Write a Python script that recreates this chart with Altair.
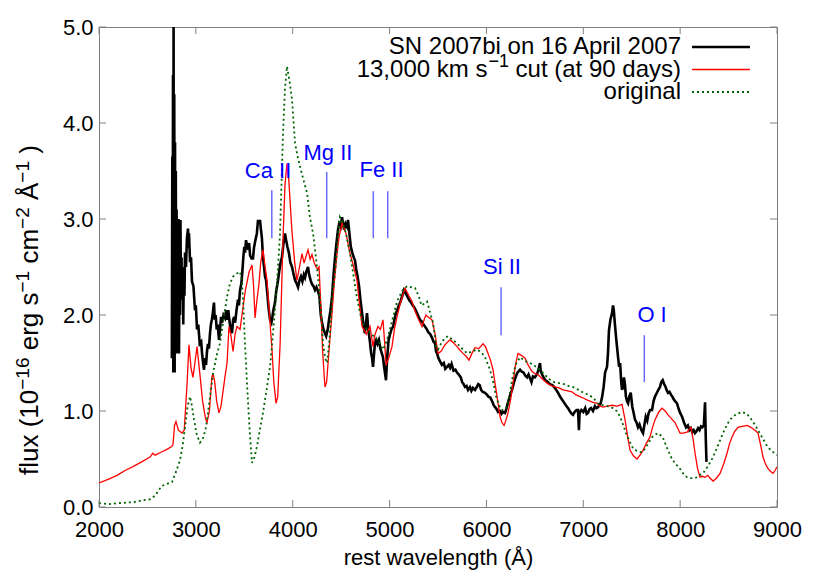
import altair as alt
import pandas as pd

# ---------------- data ----------------
obs_wl = [2752, 2757, 2761, 2764, 2767, 2770, 2773, 2777, 2781, 2785, 2789, 2793, 2797, 2801, 2806, 2811, 2816, 2821, 2826, 2831,
          2836, 2841, 2846, 2852, 2858, 2864, 2870, 2876, 2882, 2888, 2898, 2908, 2919, 2924, 2929, 2940, 2950, 2960, 2975, 2991,
          3000, 3012, 3025, 3040, 3055, 3064, 3075, 3084, 3095, 3105, 3115, 3125, 3135, 3146, 3155, 3165, 3175, 3187, 3195, 3205,
          3215, 3225, 3239, 3250, 3260, 3270, 3285, 3301, 3312, 3322, 3335, 3345, 3355, 3365, 3373, 3385, 3395, 3405, 3420, 3435,
          3445, 3455, 3470, 3480, 3490, 3500, 3508, 3518, 3528, 3540, 3550, 3560, 3575, 3590, 3600, 3615, 3630, 3642, 3652, 3662,
          3672, 3682, 3693, 3704, 3714, 3725, 3740, 3750, 3766, 3780, 3790, 3800, 3817, 3830, 3848, 3860, 3875, 3889, 3905, 3920,
          3932, 3945, 3960, 3975, 3993, 4010, 4025, 4040, 4055, 4070, 4085, 4100, 4115, 4127, 4140, 4158, 4170, 4185, 4200, 4215,
          4230, 4245, 4260, 4275, 4290, 4303, 4318, 4333, 4345, 4360, 4375, 4390, 4406, 4420, 4437, 4452, 4468, 4480, 4495, 4509,
          4520, 4530, 4545, 4560, 4571, 4585, 4600, 4615, 4630, 4643, 4655, 4670, 4685, 4700, 4716, 4730, 4745, 4755, 4767, 4780,
          4795, 4810, 4820, 4829, 4840, 4850, 4862, 4875, 4890, 4905, 4920, 4932, 4945, 4955, 4963, 4975, 4990, 5005, 5020, 5036,
          5050, 5065, 5080, 5095, 5110, 5125, 5138, 5149, 5160, 5175, 5190, 5205, 5222, 5240, 5255, 5270, 5283, 5300, 5315, 5335,
          5350, 5366, 5385, 5400, 5420, 5440, 5455, 5469, 5480, 5490, 5505, 5520, 5540, 5560, 5575, 5593, 5610, 5625, 5640, 5660,
          5680, 5696, 5715, 5735, 5750, 5765, 5779, 5795, 5810, 5830, 5845, 5860, 5882, 5900, 5915, 5930, 5945, 5960, 5985, 6005,
          6020, 6040, 6060, 6075, 6089, 6105, 6120, 6140, 6155, 6170, 6192, 6205, 6220, 6240, 6264, 6285, 6300, 6320, 6347, 6365,
          6385, 6400, 6420, 6435, 6450, 6465, 6480, 6500, 6520, 6535, 6553, 6560, 6575, 6590, 6610, 6636, 6655, 6680, 6700, 6720,
          6739, 6760, 6780, 6800, 6820, 6843, 6860, 6880, 6894, 6910, 6930, 6946, 6955, 6962, 6980, 7000, 7020, 7035, 7049, 7065,
          7080, 7100, 7120, 7135, 7152, 7165, 7180, 7195, 7210, 7225, 7245, 7255, 7265, 7280, 7297, 7307, 7315, 7325, 7340, 7348,
          7360, 7370, 7380, 7392, 7400, 7410, 7420, 7430, 7440, 7452, 7462, 7475, 7490, 7505, 7520, 7534, 7550, 7565, 7580, 7600,
          7617, 7630, 7645, 7660, 7675, 7690, 7710, 7725, 7740, 7760, 7775, 7792, 7805, 7820, 7835, 7850, 7860, 7875, 7890, 7905,
          7920, 7935, 7950, 7968, 7985, 8000, 8020, 8040, 8061, 8080, 8095, 8110, 8125, 8140, 8154, 8170, 8185, 8200, 8215, 8230,
          8245, 8257, 8265, 8272]
obs_flux = [1.55, 3.65, 1.95, 4.50, 1.40, 5.05, 1.55, 4.30, 1.40, 3.80, 1.65, 3.50, 1.75, 3.10, 1.60, 2.60, 1.85, 3.00, 1.60, 2.70,
            2.00, 2.99, 2.20, 2.60, 2.16, 2.40, 1.90, 2.50, 2.20, 2.65, 2.50, 2.80, 2.90, 2.70, 2.85, 2.55, 2.60, 2.35, 2.30, 2.05,
            2.10, 1.85, 1.90, 1.70, 1.72, 1.60, 1.50, 1.43, 1.55, 1.48, 1.62, 1.70, 1.65, 1.81, 1.90, 1.95, 2.02, 2.13, 1.95, 2.00,
            1.85, 1.90, 1.74, 1.85, 1.98, 1.92, 2.00, 1.97, 2.05, 1.95, 2.05, 1.95, 1.88, 1.85, 1.81, 1.95, 1.98, 1.92, 2.05, 2.16,
            2.10, 2.25, 2.33, 2.45, 2.60, 2.71, 2.65, 2.78, 2.72, 2.68, 2.75, 2.62, 2.59, 2.59, 2.70, 2.78, 2.85, 2.99, 2.95, 2.99,
            2.89, 2.80, 2.60, 2.50, 2.40, 2.36, 2.20, 2.08, 1.95, 1.92, 1.98, 2.05, 2.13, 2.25, 2.36, 2.45, 2.55, 2.60, 2.75, 2.85,
            2.78, 2.71, 2.65, 2.55, 2.50, 2.42, 2.36, 2.33, 2.29, 2.36, 2.40, 2.35, 2.42, 2.39, 2.45, 2.50, 2.42, 2.36, 2.32, 2.30,
            2.26, 2.29, 2.25, 2.20, 2.00, 1.92, 1.85, 1.81, 1.78, 1.84, 1.95, 2.05, 2.19, 2.40, 2.60, 2.75, 2.89, 2.95, 2.92, 3.02,
            2.95, 2.89, 2.95, 2.92, 2.99, 2.85, 2.71, 2.65, 2.60, 2.57, 2.48, 2.40, 2.30, 2.15, 2.02, 1.90, 1.81, 1.90, 2.02, 1.85,
            1.74, 1.60, 1.55, 1.46, 1.60, 1.71, 1.74, 1.70, 1.74, 1.65, 1.60, 1.56, 1.45, 1.38, 1.32, 1.55, 1.74, 1.80, 1.85, 1.88,
            1.95, 2.02, 2.05, 2.10, 2.13, 2.18, 2.22, 2.26, 2.24, 2.21, 2.18, 2.15, 2.13, 2.10, 2.08, 2.05, 2.02, 1.98, 1.95, 1.93,
            1.90, 1.88, 1.85, 1.82, 1.80, 1.76, 1.72, 1.71, 1.62, 1.60, 1.55, 1.52, 1.48, 1.50, 1.44, 1.46, 1.48, 1.45, 1.49, 1.42,
            1.43, 1.40, 1.38, 1.35, 1.30, 1.28, 1.25, 1.26, 1.22, 1.25, 1.21, 1.24, 1.22, 1.25, 1.28, 1.27, 1.22, 1.20, 1.19, 1.17,
            1.15, 1.14, 1.10, 1.06, 1.04, 1.02, 0.99, 1.00, 0.97, 0.99, 0.98, 1.02, 1.08, 1.15, 1.22, 1.30, 1.35, 1.40, 1.43, 1.41,
            1.40, 1.37, 1.35, 1.38, 1.34, 1.30, 1.36, 1.35, 1.38, 1.42, 1.50, 1.42, 1.38, 1.35, 1.32, 1.30, 1.28, 1.27, 1.25, 1.22,
            1.19, 1.15, 1.12, 1.09, 1.06, 1.03, 1.00, 0.97, 0.96, 0.99, 1.01, 1.01, 0.80, 0.98, 1.01, 0.99, 1.03, 0.97, 0.98, 1.02,
            1.03, 1.00, 1.05, 1.03, 1.04, 1.06, 1.08, 1.15, 1.25, 1.40, 1.46, 1.60, 1.84, 1.95, 2.02, 2.10, 2.05, 1.92, 1.75, 1.67,
            1.55, 1.46, 1.50, 1.30, 1.22, 1.25, 1.35, 1.28, 1.15, 1.10, 1.08, 1.15, 1.19, 1.05, 0.98, 0.91, 0.88, 0.83, 0.86, 0.80,
            0.77, 0.85, 0.94, 0.90, 0.98, 1.01, 1.01, 1.10, 1.15, 1.19, 1.22, 1.25, 1.30, 1.32, 1.28, 1.25, 1.22, 1.19, 1.20, 1.17,
            1.15, 1.12, 1.10, 1.08, 1.02, 0.98, 0.94, 0.88, 0.83, 0.85, 0.80, 0.82, 0.78, 0.80, 0.77, 0.79, 0.82, 0.80, 0.84, 0.83,
            0.85, 1.09, 0.70, 0.47]

cut_wl = [2000, 2100, 2186, 2270, 2351, 2440, 2527, 2555, 2580, 2640, 2702, 2750, 2764, 2780, 2795, 2820, 2857, 2880, 2910, 2929,
          2950, 2970, 2990, 3012, 3040, 3070, 3100, 3115, 3140, 3165, 3177, 3195, 3215, 3239, 3260, 3300, 3322, 3342, 3360, 3384,
          3405, 3425, 3456, 3487, 3510, 3528, 3550, 3580, 3596, 3611, 3630, 3652, 3670, 3693, 3715, 3735, 3760, 3786, 3805, 3828,
          3845, 3870, 3900, 3920, 3941, 3960, 3990, 4020, 4044, 4070, 4096, 4117, 4140, 4158, 4180, 4199, 4220, 4240, 4260, 4272,
          4290, 4310, 4333, 4350, 4380, 4406, 4430, 4457, 4480, 4509, 4530, 4550, 4570, 4592, 4630, 4664, 4690, 4716, 4740, 4760,
          4798, 4829, 4850, 4880, 4905, 4932, 4950, 4963, 4990, 5025, 5050, 5077, 5110, 5140, 5160, 5200, 5232, 5260, 5300, 5335,
          5360, 5376, 5410, 5438, 5470, 5500, 5530, 5573, 5600, 5624, 5660, 5696, 5730, 5758, 5790, 5820, 5850, 5882, 5920, 5965,
          5990, 6017, 6045, 6068, 6090, 6110, 6141, 6160, 6182, 6200, 6223, 6250, 6275, 6300, 6326, 6360, 6399, 6430, 6471, 6500,
          6533, 6580, 6626, 6660, 6708, 6750, 6791, 6840, 6884, 6920, 6966, 7010, 7049, 7100, 7142, 7173, 7204, 7250, 7300, 7350,
          7400, 7431, 7460, 7483, 7520, 7555, 7585, 7617, 7650, 7689, 7715, 7741, 7780, 7813, 7845, 7875, 7910, 7947, 7975, 7999,
          8035, 8071, 8112, 8135, 8154, 8180, 8205, 8230, 8257, 8285, 8310, 8340, 8375, 8412, 8450, 8484, 8510, 8536, 8565, 8598,
          8640, 8691, 8730, 8773, 8804, 8830, 8856, 8880, 8908, 8935, 8959, 8980, 9000]
cut_flux = [0.25, 0.29, 0.33, 0.38, 0.42, 0.47, 0.52, 0.56, 0.54, 0.57, 0.60, 0.63, 0.65, 0.85, 0.89, 0.80, 0.77, 0.80, 1.30, 1.69,
            1.45, 1.35, 1.50, 1.67, 1.40, 1.10, 0.92, 0.88, 1.00, 1.35, 1.39, 1.30, 1.10, 0.98, 1.05, 1.35, 1.50, 1.88, 1.80, 1.62,
            1.80, 1.88, 1.85, 2.08, 2.25, 2.34, 2.45, 2.52, 2.30, 1.97, 2.15, 2.33, 2.55, 2.68, 2.50, 2.36, 2.00, 1.64, 1.30, 1.08,
            1.15, 1.70, 2.80, 3.35, 3.58, 3.40, 2.90, 2.55, 2.36, 2.50, 2.64, 2.54, 2.62, 2.68, 2.58, 2.63, 2.55, 2.50, 2.48, 2.50,
            2.10, 1.60, 1.25, 1.30, 1.70, 2.02, 2.35, 2.63, 2.82, 2.96, 2.90, 2.85, 2.75, 2.64, 2.50, 2.36, 2.10, 1.88, 1.84, 1.80,
            1.88, 1.67, 1.80, 1.88, 1.85, 1.95, 1.70, 1.48, 1.55, 1.67, 1.85, 1.98, 2.12, 2.22, 2.28, 2.20, 2.14, 2.05, 1.95, 1.88,
            1.96, 2.00, 1.97, 1.95, 1.80, 1.60, 1.62, 1.69, 1.72, 1.74, 1.71, 1.67, 1.63, 1.60, 1.57, 1.53, 1.60, 1.66, 1.65, 1.70,
            1.67, 1.60, 1.52, 1.43, 1.28, 1.15, 0.94, 0.88, 0.85, 0.90, 0.98, 1.12, 1.29, 1.48, 1.60, 1.58, 1.55, 1.48, 1.41, 1.39,
            1.38, 1.33, 1.29, 1.27, 1.25, 1.24, 1.22, 1.21, 1.20, 1.17, 1.15, 1.13, 1.11, 1.09, 1.08, 1.05, 1.04, 1.05, 1.06, 1.05,
            1.07, 0.91, 0.72, 0.59, 0.53, 0.50, 0.54, 0.59, 0.66, 0.73, 0.83, 0.91, 0.99, 1.03, 1.00, 0.96, 0.92, 0.88, 0.82, 0.77,
            0.77, 0.78, 0.83, 0.70, 0.56, 0.40, 0.31, 0.32, 0.31, 0.33, 0.30, 0.27, 0.30, 0.35, 0.45, 0.56, 0.66, 0.73, 0.79, 0.83,
            0.84, 0.85, 0.83, 0.80, 0.77, 0.65, 0.52, 0.45, 0.40, 0.37, 0.35, 0.38, 0.42]

orig_wl = [2000, 2100, 2200, 2350, 2450, 2527, 2580, 2620, 2650, 2700, 2754, 2800, 2837, 2865, 2888, 2915, 2940, 2960, 2981, 3010,
           3043, 3075, 3105, 3140, 3177, 3215, 3250, 3285, 3322, 3350, 3384, 3420, 3456, 3475, 3487, 3505, 3528, 3555, 3580, 3605,
           3631, 3660, 3693, 3730, 3766, 3800, 3838, 3869, 3900, 3920, 3941, 3965, 3993, 4024, 4055, 4100, 4148, 4178, 4210, 4240,
           4270, 4290, 4313, 4335, 4354, 4380, 4410, 4437, 4465, 4488, 4520, 4550, 4590, 4623, 4660, 4695, 4730, 4770, 4810, 4850,
           4890, 4932, 4960, 4990, 5036, 5080, 5130, 5180, 5220, 5263, 5300, 5330, 5360, 5387, 5420, 5449, 5480, 5500, 5540, 5573,
           5603, 5640, 5680, 5720, 5760, 5800, 5850, 5903, 5950, 5990, 6037, 6070, 6100, 6130, 6161, 6190, 6210, 6240, 6270, 6300,
           6347, 6400, 6450, 6500, 6553, 6600, 6650, 6700, 6750, 6800, 6850, 6894, 6950, 7000, 7050, 7101, 7150, 7200, 7250, 7307,
           7345, 7380, 7410, 7440, 7480, 7514, 7560, 7607, 7640, 7680, 7720, 7772, 7820, 7850, 7880, 7906, 7950, 7990, 8030, 8071,
           8110, 8154, 8200, 8236, 8290, 8340, 8390, 8443, 8490, 8540, 8590, 8639, 8690, 8730, 8770, 8804, 8850, 8900, 8950, 9000]
orig_flux = [0.04, 0.03, 0.04, 0.05, 0.07, 0.08, 0.12, 0.18, 0.22, 0.24, 0.26, 0.38, 0.49, 0.65, 0.83, 1.05, 1.15, 1.05, 0.91, 0.75,
             0.67, 0.72, 0.83, 1.10, 1.39, 1.58, 1.71, 1.95, 2.19, 2.32, 2.40, 2.43, 2.45, 2.35, 2.16, 1.75, 1.29, 0.80, 0.46, 0.52,
             0.63, 0.80, 0.98, 1.22, 1.46, 1.85, 2.33, 2.85, 3.90, 4.35, 4.59, 4.45, 4.24, 3.79, 3.63, 3.45, 3.27, 3.02, 2.85, 2.60,
             2.30, 2.05, 1.70, 1.55, 1.50, 1.75, 2.20, 2.44, 2.80, 3.02, 2.95, 2.85, 2.65, 2.44, 2.20, 2.02, 1.90, 1.85, 1.80, 1.77,
             1.72, 1.64, 1.70, 1.80, 1.98, 2.15, 2.25, 2.30, 2.29, 2.28, 2.20, 2.10, 2.12, 2.14, 2.02, 1.92, 1.68, 1.64, 1.72, 1.76,
             1.78, 1.75, 1.72, 1.68, 1.64, 1.60, 1.62, 1.64, 1.61, 1.55, 1.43, 1.30, 1.15, 1.06, 1.01, 1.02, 1.04, 1.18, 1.35, 1.48,
             1.56, 1.52, 1.50, 1.47, 1.43, 1.38, 1.33, 1.30, 1.29, 1.28, 1.26, 1.25, 1.22, 1.19, 1.17, 1.14, 1.08, 1.06, 1.05, 1.03,
             1.00, 0.94, 0.86, 0.77, 0.68, 0.61, 0.58, 0.57, 0.61, 0.68, 0.74, 0.77, 0.73, 0.65, 0.58, 0.52, 0.45, 0.41, 0.35, 0.31,
             0.30, 0.30, 0.33, 0.35, 0.43, 0.52, 0.64, 0.77, 0.87, 0.94, 0.97, 0.99, 0.97, 0.92, 0.86, 0.80, 0.72, 0.63, 0.58, 0.54]

x_ticks = [2000, 3000, 4000, 5000, 6000, 7000, 8000, 9000]
y_ticks = [0.0, 1.0, 2.0, 3.0, 4.0, 5.0]

ion_names = ["Ca II", "Mg II", "Fe II", "Si II", "O I"]
ion_text_wl = [3745, 4364, 4917, 6161, 7710]
ion_text_flux = [3.50, 3.69, 3.51, 2.50, 2.00]
ion_line_wl = [3784, 4351, 4832, 4981, 6151, 7630]
ion_line_top = [3.30, 3.49, 3.29, 3.29, 2.29, 1.79]
ion_line_bottom = [2.80, 2.80, 2.80, 2.80, 1.79, 1.30]

# y-axis title pieces (base text / superscript)
ytitle_parts = ["flux (10", "\u221216", "erg s", "\u22121", "cm", "\u22122", "\u00c5", "\u22121", ")"]
ytitle_sup = [False, True, False, True, False, True, False, True, False]

# legend texts; the second one is split around its superscript
legend_labels = ["SN 2007bi on 16 April 2007", "13,000 km s", "\u22121", "cut (at 90 days)", "original"]
series_colors = ["#000000", "#ff0000", "#006400"]

# ---------------- chart ----------------
W, H = 678, 480
FONT = "Liberation Sans"
FRAME = "#808080"
BASE, SUP = 26, 19

xscale = alt.Scale(domain=[2000, 9000], nice=False, zero=False)
yscale = alt.Scale(domain=[0, 5], nice=False, zero=True)

xaxis = alt.Axis(values=x_ticks, format="d", title="rest wavelength (\u00c5)", domain=False, ticks=False, grid=False,
                 labelFontSize=22, labelFont=FONT, labelColor="black", labelPadding=12, labelFlush=False,
                 titleFontSize=22, titleFont=FONT, titleFontWeight="normal", titleColor="black", titlePadding=7)
yaxis = alt.Axis(values=y_ticks, format=".1f", title=None, domain=False, ticks=False, grid=False,
                 labelFontSize=22, labelFont=FONT, labelColor="black", labelPadding=6, labelFlush=False)


def X(field):
    return alt.X(field, type="quantitative", scale=xscale, axis=xaxis)


def Y(field):
    return alt.Y(field, type="quantitative", scale=yscale, axis=yaxis)


obs = pd.DataFrame({"wl": obs_wl, "flux": obs_flux})
cut = pd.DataFrame({"wl": cut_wl, "flux": cut_flux})
orig = pd.DataFrame({"wl": orig_wl, "flux": orig_flux})

obs_line = alt.Chart(obs).mark_line(color=series_colors[0], strokeWidth=2.6, clip=True).encode(x=X("wl"), y=Y("flux"))
cut_line = alt.Chart(cut).mark_line(color=series_colors[1], strokeWidth=1.3, clip=True).encode(x=X("wl"), y=Y("flux"))
orig_line = alt.Chart(orig).mark_line(color=series_colors[2], strokeWidth=1.8, strokeDash=[2, 3], clip=True).encode(
    x=X("wl"), y=Y("flux"))

# ion identifications
ion_txt_df = pd.DataFrame({"name": ion_names, "wl": ion_text_wl, "flux": ion_text_flux})
ion_txt = alt.Chart(ion_txt_df).mark_text(font=FONT, fontSize=22, color="#0000ff", align="center",
                                          baseline="middle").encode(x=X("wl"), y=Y("flux"), text="name:N")
ion_ln_df = pd.DataFrame({"wl": ion_line_wl, "top": ion_line_top, "bot": ion_line_bottom})
ion_ln = alt.Chart(ion_ln_df).mark_rule(color="#6a6aff", strokeWidth=1.5).encode(x=X("wl"), y=Y("bot"), y2="top")

# inward ticks on all four sides
xt_df = pd.DataFrame({"v": x_ticks})
yt_df = pd.DataFrame({"v": y_ticks})
tk = dict(color=FRAME, strokeWidth=1)
xt_bottom = alt.Chart(xt_df).mark_rule(**tk).encode(x=X("v"), y=alt.value(H), y2=alt.value(H - 7))
xt_top = alt.Chart(xt_df).mark_rule(**tk).encode(x=X("v"), y=alt.value(0), y2=alt.value(7))
yt_left = alt.Chart(yt_df).mark_rule(**tk).encode(y=Y("v"), x=alt.value(0), x2=alt.value(7))
yt_right = alt.Chart(yt_df).mark_rule(**tk).encode(y=Y("v"), x=alt.value(W), x2=alt.value(W - 7))

# ---- y-axis title built from pieces (rotated, reading upwards) ----
# approximate advance widths (em) of each piece for Helvetica-metric font
em = {"flux (10": 3.279, "\u221216": 1.696, "erg s": 2.223, "\u22121": 1.14, "cm": 1.333, "\u22122": 1.14,
      "\u00c5": 0.667, ")": 0.333}
space = 0.278 * BASE
ytitle_layers = []
pos = 448.0
for i, (part, sup) in enumerate(zip(ytitle_parts, ytitle_sup)):
    size = SUP if sup else BASE
    if i > 0 and not sup:
        pos -= space
    d = pd.DataFrame({"t": [part]})
    ytitle_layers.append(alt.Chart(d).mark_text(font=FONT, fontSize=size, color="black", angle=270, align="left",
                                                baseline="alphabetic").encode(
        text="t:N", x=alt.value(-70 if sup else -61), y=alt.value(pos)))
    pos -= em[part] * size

# ---- legend (top right, inside) ----
leg_y = [20, 42.5, 65]
LX = 582
leg_layers = []


def leg_text(label, x, y, size, align="right"):
    d = pd.DataFrame({"label": [label]})
    return alt.Chart(d).mark_text(font=FONT, fontSize=size, color="black", align=align, baseline="middle").encode(
        text="label:N", x=alt.value(x), y=alt.value(y))


LSUP = 18
leg_layers.append(leg_text(legend_labels[0], LX, leg_y[0], 24))
# row 2: "13,000 km s" ^{-1} " cut (at 90 days)"
cut_w = 6.892 * 24
sup_right = LX - cut_w - 0.278 * 24
leg_layers.append(leg_text(legend_labels[3], LX, leg_y[1], 24))
leg_layers.append(leg_text(legend_labels[2], sup_right, leg_y[1] - 8, LSUP))
leg_layers.append(leg_text(legend_labels[1], sup_right - 1.14 * LSUP - 1, leg_y[1], 24))
leg_layers.append(leg_text(legend_labels[4], LX, leg_y[2], 24))
for i in range(3):
    props = dict(color=series_colors[i], strokeWidth=[2.5, 1.3, 1.8][i])
    if i == 2:
        props["strokeDash"] = [2, 3]
    d = pd.DataFrame({"k": [i]})
    leg_layers.append(alt.Chart(d).mark_rule(**props).encode(
        x=alt.value(593), x2=alt.value(651), y=alt.value(leg_y[i])))

chart = alt.layer(
    obs_line, cut_line, orig_line, ion_ln, ion_txt,
    xt_bottom, xt_top, yt_left, yt_right, *ytitle_layers, *leg_layers
).properties(
    width=W, height=H,
    autosize=alt.AutoSizeParams(type="none"),
    padding={"left": 91, "top": 19, "right": 25, "bottom": 72},
).configure_view(
    stroke=FRAME, strokeWidth=1
)

chart.save("out.html", embed_options={"renderer": "svg", "actions": False})
